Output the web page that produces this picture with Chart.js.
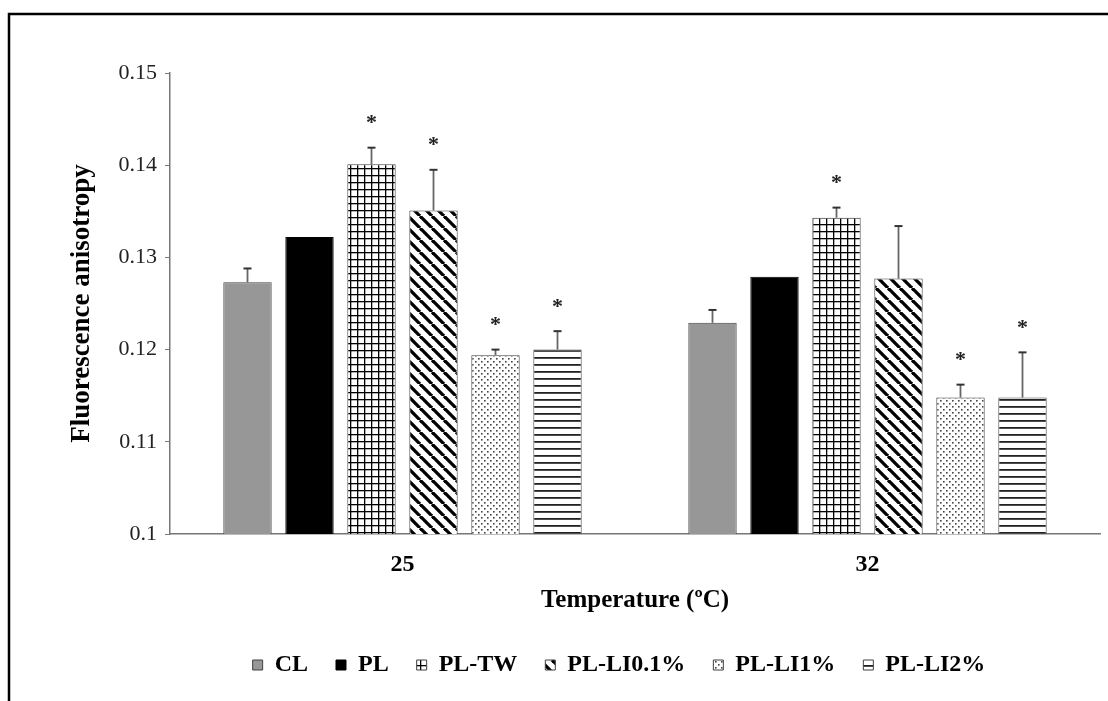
<!DOCTYPE html>
<html>
<head>
<meta charset="utf-8">
<script src="https://cdn.jsdelivr.net/npm/chart.js@4/dist/chart.umd.min.js"></script>
<style>
  html, body { margin: 0; padding: 0; background: #fff; }
  #wrap { width: 1108px; height: 701px; }
</style>
</head>
<body>
<div id="wrap"><canvas id="anisoChart" width="1108" height="701"></canvas></div>
<script>
// temperatures on the x axis
const temperatures = ["25", "32"];

// mean anisotropy per formulation, one value per temperature
const clValues = [0.1273, 0.1229];
const plValues = [0.1322, 0.1279];
const plTwValues = [0.1401, 0.1343];
const plLi01Values = [0.1351, 0.1277];
const plLi1Values = [0.1194, 0.1148];
const plLi2Values = [0.1200, 0.1148];

// upper error (SD)
const clErr = [0.0015, 0.0014];
const plErr = [0, 0];
const plTwErr = [0.0018, 0.0011];
const plLi01Err = [0.0044, 0.0057];
const plLi1Err = [0.0006, 0.0014];
const plLi2Err = [0.0020, 0.0049];

// significant difference markers
const clSig = [false, false];
const plSig = [false, false];
const plTwSig = [true, true];
const plLi01Sig = [true, false];
const plLi1Sig = [true, true];
const plLi2Sig = [true, true];

const yTicks = [0.1, 0.11, 0.12, 0.13, 0.14, 0.15];

const serif = "'Liberation Serif', 'Times New Roman', serif";

// small fill textures for the bars
const makeTile = (w, h, paint) => {
  const c = document.createElement("canvas");
  c.width = w;
  c.height = h;
  const g = c.getContext("2d");
  g.fillStyle = "#fff";
  g.fillRect(0, 0, w, h);
  paint(g, w, h);
  return c;
};

const ctx = document.getElementById("anisoChart").getContext("2d");

const gridFill = ctx.createPattern(makeTile(7, 7, (g) => {
  g.fillStyle = "#000";
  g.fillRect(0, 0, 7, 1.3);
  g.fillRect(0, 0, 1.3, 7);
}), "repeat");

const diagFill = ctx.createPattern(makeTile(12, 12, (g) => {
  g.strokeStyle = "#000";
  g.lineWidth = 3.3;
  [-12, 0, 12].forEach((x0) => {
    g.beginPath();
    g.moveTo(x0, 0);
    g.lineTo(x0 + 12, 12);
    g.stroke();
  });
}), "repeat");

const dotFill = ctx.createPattern(makeTile(6, 6, (g) => {
  g.fillStyle = "#444";
  g.fillRect(1, 1, 1.6, 1.6);
  g.fillRect(4, 4, 1.6, 1.6);
}), "repeat");

const hLineFill = ctx.createPattern(makeTile(8, 7, (g) => {
  g.fillStyle = "#222";
  g.fillRect(0, 0, 8, 1.8);
}), "repeat");

const errorSets = [clErr, plErr, plTwErr, plLi01Err, plLi1Err, plLi2Err];
const sigSets = [clSig, plSig, plTwSig, plLi01Sig, plLi1Sig, plLi2Sig];

// upper error whiskers and asterisks
const errorBars = {
  id: "errorBars",
  afterDatasetsDraw(chart) {
    const c = chart.ctx;
    const yScale = chart.scales.y;
    c.save();
    chart.data.datasets.forEach((ds, i) => {
      const meta = chart.getDatasetMeta(i);
      meta.data.forEach((bar, j) => {
        const err = errorSets[i][j];
        const topVal = ds.data[j] + err;
        const yTop = yScale.getPixelForValue(topVal);
        if (err > 0) {
          c.strokeStyle = "#666";
          c.lineWidth = 1.8;
          c.beginPath();
          c.moveTo(bar.x, bar.y);
          c.lineTo(bar.x, yTop);
          c.stroke();
          c.strokeStyle = "#333";
          c.lineWidth = 2;
          c.beginPath();
          c.moveTo(bar.x - 4, yTop);
          c.lineTo(bar.x + 4, yTop);
          c.stroke();
        }
        if (sigSets[i][j]) {
          c.fillStyle = "#222";
          c.font = "bold 22px " + serif;
          c.textAlign = "center";
          c.textBaseline = "middle";
          c.fillText("*", bar.x, yTop - 24);
        }
      });
    });
    c.restore();
  },
};

// white page with the figure frame
const frame = {
  id: "frame",
  beforeDraw(chart) {
    const c = chart.ctx;
    c.save();
    c.fillStyle = "#fff";
    c.fillRect(0, 0, chart.width, chart.height);
    c.strokeStyle = "#000";
    c.lineWidth = 2.5;
    c.beginPath();
    c.moveTo(9, chart.height);
    c.lineTo(9, 14);
    c.lineTo(chart.width, 14);
    c.stroke();
    c.restore();
  },
  afterLayout(chart) {
    // legend sits a bit left of the plot centre
    chart.legend.left -= 16;
    chart.legend.right -= 16;
  },
};

const border = "#404040";

const data = {
  labels: temperatures,
  datasets: [
    { label: "CL", data: clValues, backgroundColor: "#979797", borderColor: border },
    { label: "PL", data: plValues, backgroundColor: "#000", borderColor: "#000" },
    { label: "PL-TW", data: plTwValues, backgroundColor: gridFill, borderColor: border },
    { label: "PL-LI0.1%", data: plLi01Values, backgroundColor: diagFill, borderColor: border },
    { label: "PL-LI1%", data: plLi1Values, backgroundColor: dotFill, borderColor: border },
    { label: "PL-LI2%", data: plLi2Values, backgroundColor: hLineFill, borderColor: border },
  ].map((d) => ({ ...d, borderWidth: 1, categoryPercentage: 0.8, barPercentage: 0.78 })),
};

new Chart(ctx, {
  type: "bar",
  data: data,
  options: {
    responsive: false,
    animation: false,
    devicePixelRatio: 1,
    layout: { padding: { top: 73, right: 8, bottom: 14, left: 62 } },
    plugins: {
      tooltip: { enabled: false },
      legend: {
        position: "bottom",
        fullSize: false,
        labels: {
          boxWidth: 10,
          boxHeight: 10,
          padding: 28,
          color: "#000",
          font: { family: serif, size: 24, weight: "bold" },
        },
      },
    },
    scales: {
      x: {
        grid: { display: false, drawTicks: false },
        border: { display: true, color: "#777", width: 1.5 },
        ticks: {
          padding: 16,
          color: "#000",
          font: { family: serif, size: 24, weight: "bold" },
        },
        title: {
          display: true,
          text: "Temperature (ºC)",
          color: "#000",
          padding: { top: 7, bottom: 9 },
          font: { family: serif, size: 25, weight: "bold" },
        },
        afterFit: (scale) => { scale.height = 91; },
      },
      y: {
        min: 0.1,
        max: 0.15,
        afterBuildTicks: (scale) => { scale.ticks = yTicks.map((v) => ({ value: v })); },
        grid: { drawOnChartArea: false, drawTicks: true, tickLength: 5, color: "#777" },
        border: { display: true, color: "#777", width: 1.5 },
        ticks: {
          padding: 8,
          color: "#222",
          font: { family: serif, size: 22 },
          callback: (v) => String(Number(v.toFixed(2))),
        },
        title: {
          display: true,
          text: "Fluorescence anisotropy",
          color: "#000",
          padding: { top: 4, bottom: 20 },
          font: { family: serif, size: 27, weight: "bold" },
        },
        afterFit: (scale) => { scale.width = 108; },
      },
    },
  },
  plugins: [frame, errorBars],
});
</script>
</body>
</html>
